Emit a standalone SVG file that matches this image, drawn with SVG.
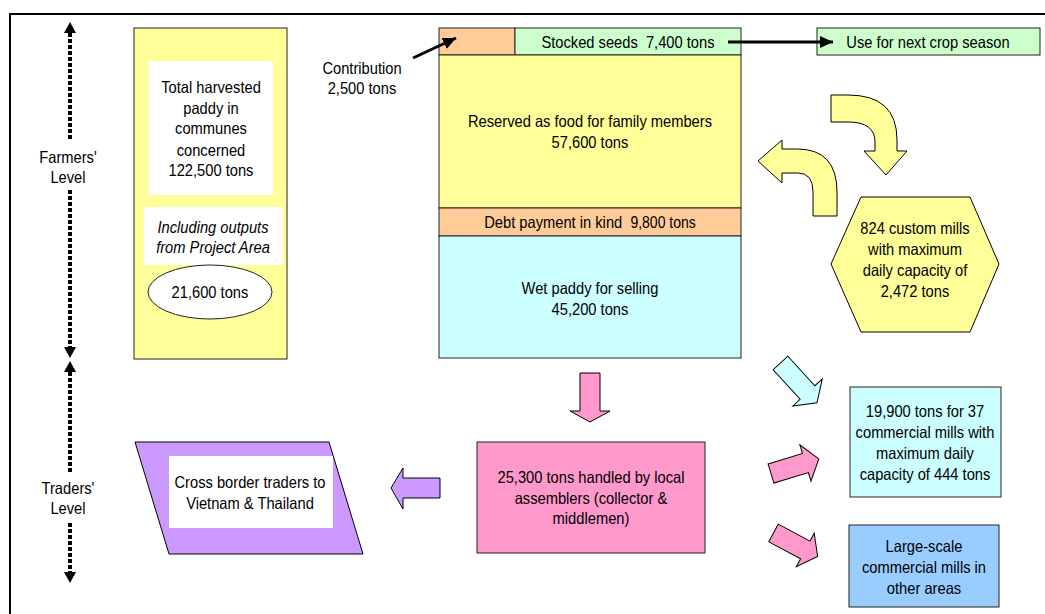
<svg xmlns="http://www.w3.org/2000/svg" width="1045" height="614" viewBox="0 0 1045 614">
  <defs>
    <style>
      .t { font-family: "Liberation Sans", Arial, sans-serif; font-size: 14.7px; text-anchor: middle; fill: #000;
           transform-box: fill-box; transform-origin: center; transform: scaleY(1.15); }
      .it { font-style: italic; }
      .box { stroke: #222; stroke-width: 1; }
      .yellow { fill: #FFFF99; }
      .orange { fill: #FFCC99; }
      .green { fill: #CCFFCC; }
      .cyan { fill: #CCFFFF; }
      .pink { fill: #FF99CC; }
      .purple { fill: #CC99FF; }
      .blue { fill: #99CCFF; }
      .white { fill: #FFFFFF; }
      .blk { stroke: #000; stroke-width: 3; fill: none; }
      .dot { stroke: #000; stroke-width: 4; stroke-dasharray: 4 2; fill: none; }
      .shape { stroke: #000; stroke-width: 1; stroke-linejoin: miter; }
    </style>
    <marker id="head" markerUnits="userSpaceOnUse" markerWidth="14" markerHeight="12" refX="13" refY="6" orient="auto">
      <path d="M0,0 L13,6 L0,12 Z" fill="#000"/>
    </marker>
  </defs>

  <!-- outer frame -->
  <rect x="10" y="14" width="1045" height="610" fill="#fff" stroke="#000" stroke-width="2"/>

  <!-- level markers on the left -->
  <g id="levels">
    <line class="dot" x1="70" y1="33" x2="70" y2="140"/>
    <polygon points="70,22 64,33 76,33" fill="#000"/>
    <text class="t" x="68" y="162">Farmers'</text>
    <text class="t" x="68" y="182">Level</text>
    <line class="dot" x1="70" y1="190" x2="70" y2="348"/>
    <polygon points="70,358 64,347 76,347" fill="#000"/>
    <polygon points="70,361 64,372 76,372" fill="#000"/>
    <line class="dot" x1="70" y1="372" x2="70" y2="472"/>
    <text class="t" x="68" y="493">Traders'</text>
    <text class="t" x="68" y="513">Level</text>
    <line class="dot" x1="70" y1="523" x2="70" y2="572"/>
    <polygon points="70,583 64,572 76,572" fill="#000"/>
  </g>

  <!-- total harvest column -->
  <g id="harvest">
    <rect class="box yellow" x="134" y="28" width="153" height="331"/>
    <rect class="white" x="149" y="61" width="124" height="134"/>
    <text class="t" x="211" y="92">Total harvested</text>
    <text class="t" x="211" y="113">paddy in</text>
    <text class="t" x="211" y="133">communes</text>
    <text class="t" x="211" y="155">concerned</text>
    <text class="t" x="211" y="175">122,500 tons</text>
    <rect class="white" x="144" y="207" width="139" height="58"/>
    <text class="t it" x="213" y="232">Including outputs</text>
    <text class="t it" x="213" y="252">from Project Area</text>
    <ellipse class="box white" cx="210" cy="292" rx="62" ry="27"/>
    <text class="t" x="210" y="297">21,600 tons</text>
  </g>

  <!-- distribution column -->
  <g id="contribution-cell">
    <rect class="box orange" x="439" y="28" width="76" height="27"/>
  </g>
  <g id="stocked-seeds">
    <rect class="box green" x="515" y="28" width="226" height="27"/>
    <text class="t" x="628" y="47" xml:space="preserve">Stocked seeds  7,400 tons</text>
  </g>
  <g id="reserved-food">
    <rect class="box yellow" x="439" y="55" width="302" height="153"/>
    <text class="t" x="590" y="126">Reserved as food for family members</text>
    <text class="t" x="590" y="147">57,600 tons</text>
  </g>
  <g id="debt-payment">
    <rect class="box orange" x="439" y="208" width="302" height="28"/>
    <text class="t" x="590" y="227" xml:space="preserve">Debt payment in kind  <tspan font-size="14">9,800 tons</tspan></text>
  </g>
  <g id="wet-paddy">
    <rect class="box cyan" x="439" y="236" width="302" height="122"/>
    <text class="t" x="590" y="293">Wet paddy for selling</text>
    <text class="t" x="590" y="314">45,200 tons</text>
  </g>

  <g id="contribution-label">
    <text class="t" x="362" y="73">Contribution</text>
    <text class="t" x="362" y="93">2,500 tons</text>
  </g>

  <g id="next-season">
    <rect class="box green" x="817" y="28" width="223" height="27"/>
    <text class="t" x="928" y="47">Use for next crop season</text>
  </g>

  <g id="custom-mills">
    <polygon class="shape yellow" points="861,197 970,197 999,264 970,332 861,332 831,264"/>
    <text class="t" x="915" y="233">824 custom mills</text>
    <text class="t" x="915" y="254">with maximum</text>
    <text class="t" x="915" y="275">daily capacity of</text>
    <text class="t" x="915" y="296">2,472 tons</text>
  </g>

  <g id="commercial-mills">
    <rect class="box cyan" x="850" y="387" width="151" height="110"/>
    <text class="t" x="925" y="416">19,900 tons for 37</text>
    <text class="t" x="925" y="437">commercial mills with</text>
    <text class="t" x="925" y="458">maximum daily</text>
    <text class="t" x="925" y="479">capacity of 444 tons</text>
  </g>

  <g id="large-mills">
    <rect class="box blue" x="849" y="525" width="150" height="82"/>
    <text class="t" x="924" y="551">Large-scale</text>
    <text class="t" x="924" y="572">commercial mills in</text>
    <text class="t" x="924" y="593">other areas</text>
  </g>

  <g id="assemblers">
    <rect class="box pink" x="477" y="442" width="228" height="111"/>
    <text class="t" x="591" y="482">25,300 tons handled by local</text>
    <text class="t" x="591" y="503">assemblers (collector &amp;</text>
    <text class="t" x="591" y="523">middlemen)</text>
  </g>

  <g id="cross-border">
    <polygon class="shape purple" points="135,442 329,442 363,554 169,554"/>
    <rect class="white" x="169" y="456" width="164" height="72"/>
    <text class="t" x="250" y="487">Cross border traders to</text>
    <text class="t" x="250" y="508">Vietnam &amp; Thailand</text>
  </g>

  <!-- connectors -->
  <g id="connectors">
    <line class="blk" x1="413" y1="58" x2="456" y2="38" marker-end="url(#head)"/>
    <line class="blk" x1="728" y1="42" x2="833" y2="42" marker-end="url(#head)"/>

    <!-- curved block arrows to and from the custom mills -->
    <path class="shape yellow" d="M831,95 L848,95 Q897,95 897,140 L897,151 L907,151 L886,175 L864,151 L875,151 L875,142 Q875,122 848,122 L831,122 Z"/>
    <path class="shape yellow" d="M813,216 L837,216 L837,192 Q837,149 797,149 L782,149 L782,140 L758,161 L782,183 L782,173 L798,173 Q813,173 813,192 Z"/>

    <!-- block arrows -->
    <polygon class="shape pink" points="580,373 600,373 600,411 610,411 590,422 570,411 580,411"/>
    <polygon class="shape purple" points="440,478 440,498 403,498 403,509 391,488 403,468 403,478"/>
    <polygon class="shape cyan" transform="translate(780.5,363) rotate(47.5)" points="0,-10 40,-10 40,-20 54,0 40,20 40,10 0,10"/>
    <polygon class="shape pink" transform="translate(771,473.5) rotate(-17)" points="0,-10 36,-10 36,-19 50,0 36,19 36,10 0,10"/>
    <polygon class="shape pink" transform="translate(773.5,533) rotate(28)" points="0,-10 36,-10 36,-19 50,0 36,19 36,10 0,10"/>
  </g>
</svg>
